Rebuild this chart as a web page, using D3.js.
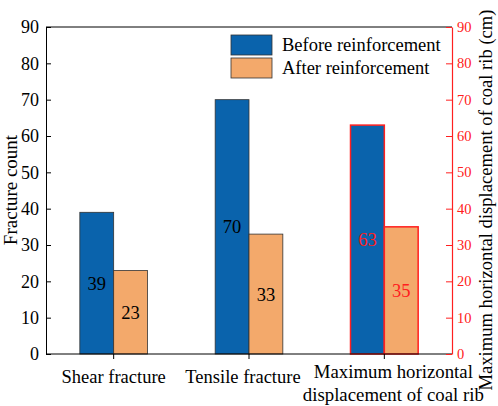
<!DOCTYPE html>
<html>
<head>
<meta charset="UTF-8">
<script src="https://cdn.jsdelivr.net/npm/d3@7/dist/d3.min.js"></script>
<style>
  body { margin: 0; background: #fff; }
  text { font-family: "Liberation Serif", "Times New Roman", serif; }
</style>
</head>
<body>
<svg width="498" height="406"></svg>
<script>
// data
var categories = ["Shear fracture", "Tensile fracture", "Maximum horizontal|displacement of coal rib"];
var seriesNames = ["Before reinforcement", "After reinforcement"];
var before = [39, 70, 63];
var after = [23, 33, 35];
var yTicks = [0, 10, 20, 30, 40, 50, 60, 70, 80, 90];

var blue = "#0a63ac", orange = "#f3a96b", red = "#ff2020";
var margin = {top: 27, left: 46, right: 46, bottom: 52};
var svg = d3.select("svg");
var width = 498, height = 406;
var x0 = margin.left, x1 = width - margin.right;
var y0 = height - margin.bottom, y1 = margin.top;

var x = d3.scaleLinear().domain([0.5, 3.5]).range([x0, x1]);
var y = d3.scaleLinear().domain([0, 90]).range([y0, y1]);
var yR = d3.scaleLinear().domain([0, 90]).range([y0, y1]);
var bw = 0.25;
var labelShift = [0, -6, 9]; // category labels sit a little off the ticks

// bars
var g = svg.append("g");
categories.forEach(function(c, i) {
  var isDisp = i == 2;
  var sc = isDisp ? yR : y;
  [before[i], after[i]].forEach(function(v, j) {
    var xs = x(i + 1 + (j == 0 ? -bw : 0));
    var xe = x(i + 1 + (j == 0 ? 0 : bw));
    g.append("rect")
      .attr("x", xs).attr("y", sc(v))
      .attr("width", xe - xs).attr("height", sc(0) - sc(v))
      .attr("fill", j == 0 ? blue : orange)
      .attr("stroke", isDisp ? red : "#333")
      .attr("stroke-width", isDisp ? 1.5 : 0.8);
    g.append("text")
      .attr("x", (xs + xe) / 2).attr("y", sc(v / 2))
      .attr("dy", "0.35em")
      .attr("text-anchor", "middle")
      .attr("font-size", 18.5)
      .attr("fill", isDisp ? red : "#000")
      .text(v);
  });
});

// frame
svg.append("line").attr("x1", x0).attr("x2", x1).attr("y1", y1).attr("y2", y1)
  .attr("stroke", "#000").attr("stroke-width", 1);
svg.append("line").attr("x1", x0).attr("x2", x1).attr("y1", y0).attr("y2", y0)
  .attr("stroke", "#000").attr("stroke-width", 1);

// left axis
var la = svg.append("g").attr("transform", "translate(" + x0 + ",0)")
  .call(d3.axisLeft(y).tickValues(yTicks).tickSizeInner(-5).tickSizeOuter(0).tickPadding(7));
la.select(".domain").attr("stroke", "#000");
la.selectAll("text").attr("font-size", 18).attr("fill", "#000");

// right axis
var ra = svg.append("g").attr("transform", "translate(" + x1 + ",0)")
  .call(d3.axisRight(yR).tickValues(yTicks).tickSizeInner(-6).tickSizeOuter(0).tickPadding(5));
ra.select(".domain").attr("stroke", red).attr("stroke-width", 1.2);
ra.selectAll("line").attr("stroke", red);
ra.selectAll("text").attr("font-size", 14.5).attr("fill", red);

// x ticks and labels
categories.forEach(function(c, i) {
  svg.append("line").attr("x1", x(i + 1)).attr("x2", x(i + 1))
    .attr("y1", y0).attr("y2", y0 + 5).attr("stroke", "#000");
  var lines = c.split("|");
  var cx = x(i + 1) + labelShift[i];
  var t = svg.append("text").attr("text-anchor", "middle")
    .attr("font-size", lines.length > 1 ? 18.8 : 18.5)
    .attr("x", cx).attr("y", lines.length > 1 ? 378 : 383);
  lines.forEach(function(l, k) {
    t.append("tspan").attr("x", cx).attr("dy", k == 0 ? 0 : 22.5).text(l);
  });
});

// axis titles
svg.append("text").attr("transform", "translate(17,190) rotate(-90)")
  .attr("text-anchor", "middle").attr("font-size", 19).text("Fracture count");
svg.append("text").attr("transform", "translate(492,200) rotate(-90)")
  .attr("text-anchor", "middle").attr("font-size", 18.6)
  .text("Maximum horizontal displacement of coal rib (cm)");

// legend
var lg = svg.append("g").attr("transform", "translate(231,35)");
seriesNames.forEach(function(s, j) {
  lg.append("rect").attr("x", 0).attr("y", j * 23).attr("width", 41).attr("height", 20)
    .attr("fill", j == 0 ? blue : orange).attr("stroke", "#333").attr("stroke-width", 0.8);
  lg.append("text").attr("x", 51).attr("y", j * 23 + 10).attr("dy", "0.35em")
    .attr("font-size", 18.5).text(s);
});
</script>
</body>
</html>
